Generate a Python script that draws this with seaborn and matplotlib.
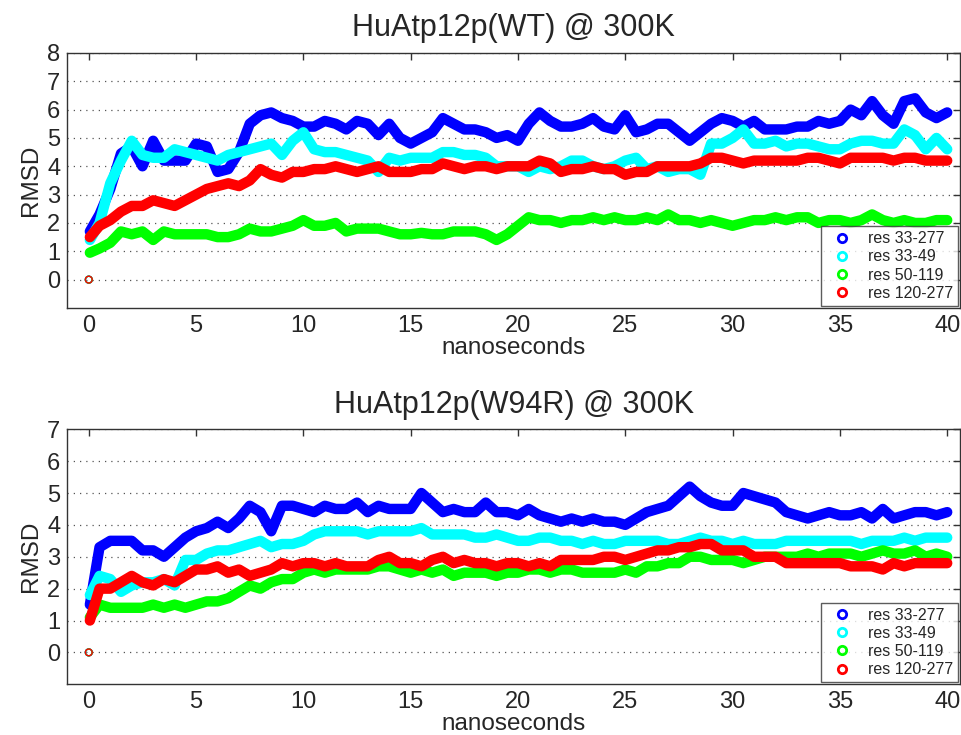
import numpy as np
import pandas as pd
import matplotlib
matplotlib.use('Agg')
import matplotlib.pyplot as plt
from matplotlib.lines import Line2D
import seaborn as sns

# ----------------------------------------------------------------------------
time_ns = [0.0, 0.05] + [round(0.5 * k, 1) for k in range(1, 81)]

labels = ['res 33-277', 'res 33-49', 'res 50-119', 'res 120-277']
colors = ['#0000ff', '#00ffff', '#00ff00', '#ff0000']

# Wild type
wt_33_277 = [0, 1.7,
             2.3, 3.2, 4.45, 4.7, 4.0, 4.9, 4.2, 4.2, 4.2, 4.8,
             4.7, 3.8, 3.9, 4.5, 5.5, 5.8, 5.9, 5.7, 5.6, 5.4,
             5.4, 5.6, 5.5, 5.3, 5.6, 5.5, 5.1, 5.5, 5.0, 4.8,
             5.0, 5.2, 5.7, 5.5, 5.3, 5.3, 5.2, 5.0, 5.1, 4.9,
             5.5, 5.9, 5.6, 5.4, 5.4, 5.5, 5.7, 5.4, 5.3, 5.8,
             5.2, 5.3, 5.5, 5.5, 5.2, 4.9, 5.2, 5.5, 5.7, 5.6,
             5.4, 5.6, 5.3, 5.3, 5.3, 5.4, 5.4, 5.6, 5.5, 5.6,
             6.0, 5.8, 6.3, 5.8, 5.5, 6.3, 6.4, 5.9, 5.7, 5.9]
wt_33_49 = [0, 1.4,
            2.0, 3.4, 4.2, 4.9, 4.4, 4.3, 4.3, 4.6, 4.5, 4.4,
            4.3, 4.2, 4.4, 4.5, 4.6, 4.7, 4.8, 4.4, 4.9, 5.2,
            4.6, 4.5, 4.5, 4.4, 4.3, 4.2, 3.8, 4.3, 4.2, 4.3,
            4.3, 4.3, 4.5, 4.5, 4.4, 4.4, 4.3, 4.0, 4.0, 4.0,
            3.8, 4.0, 3.9, 4.0, 4.2, 4.2, 4.0, 3.9, 4.0, 4.2,
            4.3, 3.9, 4.0, 3.8, 3.9, 3.9, 3.7, 4.8, 4.8, 5.0,
            5.3, 4.8, 4.8, 4.9, 4.7, 4.8, 4.8, 4.7, 4.6, 4.6,
            4.8, 4.9, 4.9, 4.8, 4.8, 5.3, 5.1, 4.6, 5.0, 4.6]
wt_50_119 = [0, 0.95,
             1.1, 1.3, 1.7, 1.6, 1.7, 1.4, 1.7, 1.6, 1.6, 1.6,
             1.6, 1.5, 1.5, 1.6, 1.8, 1.7, 1.7, 1.8, 1.9, 2.1,
             1.9, 1.9, 2.0, 1.7, 1.8, 1.8, 1.8, 1.7, 1.6, 1.6,
             1.65, 1.6, 1.6, 1.7, 1.7, 1.7, 1.6, 1.4, 1.6, 1.9,
             2.2, 2.1, 2.1, 2.0, 2.1, 2.1, 2.2, 2.1, 2.2, 2.1,
             2.1, 2.2, 2.1, 2.3, 2.1, 2.1, 2.0, 2.1, 2.0, 1.9,
             2.0, 2.1, 2.1, 2.2, 2.1, 2.2, 2.2, 2.0, 2.1, 2.1,
             2.0, 2.1, 2.3, 2.1, 2.0, 2.1, 2.0, 2.0, 2.1, 2.1]
wt_120_277 = [0, 1.5,
              1.9, 2.1, 2.4, 2.6, 2.6, 2.8, 2.7, 2.6, 2.8, 3.0,
              3.2, 3.3, 3.4, 3.3, 3.5, 3.9, 3.7, 3.6, 3.8, 3.8,
              3.9, 3.9, 4.0, 3.9, 3.8, 3.9, 4.0, 3.8, 3.8, 3.8,
              3.9, 3.9, 4.1, 4.0, 3.9, 4.0, 4.0, 3.9, 4.0, 4.0,
              4.0, 4.2, 4.1, 3.8, 3.9, 3.9, 4.0, 3.9, 3.9, 3.7,
              3.8, 3.8, 4.0, 4.0, 4.0, 4.0, 4.1, 4.3, 4.3, 4.2,
              4.1, 4.2, 4.2, 4.2, 4.2, 4.2, 4.3, 4.3, 4.2, 4.1,
              4.3, 4.3, 4.3, 4.3, 4.2, 4.3, 4.3, 4.2, 4.2, 4.2]

# W94R mutant
mut_33_277 = [0, 1.5,
              3.3, 3.5, 3.5, 3.5, 3.2, 3.2, 3.0, 3.3, 3.6, 3.8,
              3.9, 4.1, 3.9, 4.2, 4.6, 4.4, 3.8, 4.6, 4.6, 4.5,
              4.4, 4.6, 4.5, 4.5, 4.7, 4.4, 4.6, 4.5, 4.5, 4.5,
              5.0, 4.7, 4.4, 4.5, 4.4, 4.4, 4.7, 4.4, 4.4, 4.3,
              4.5, 4.3, 4.2, 4.1, 4.2, 4.1, 4.2, 4.1, 4.1, 4.0,
              4.2, 4.4, 4.5, 4.6, 4.9, 5.2, 4.9, 4.7, 4.6, 4.6,
              5.0, 4.9, 4.8, 4.7, 4.4, 4.3, 4.2, 4.3, 4.4, 4.3,
              4.3, 4.4, 4.2, 4.5, 4.2, 4.3, 4.4, 4.4, 4.3, 4.4]
mut_33_49 = [0, 1.8,
             2.4, 2.3, 1.9, 2.1, 2.2, 2.2, 2.3, 2.1, 2.9, 2.9,
             3.1, 3.2, 3.2, 3.3, 3.4, 3.5, 3.3, 3.4, 3.4, 3.5,
             3.7, 3.8, 3.8, 3.8, 3.8, 3.7, 3.8, 3.8, 3.8, 3.8,
             3.9, 3.7, 3.7, 3.7, 3.7, 3.6, 3.6, 3.7, 3.6, 3.5,
             3.5, 3.6, 3.6, 3.5, 3.5, 3.4, 3.5, 3.4, 3.4, 3.5,
             3.5, 3.5, 3.5, 3.4, 3.4, 3.5, 3.6, 3.5, 3.5, 3.4,
             3.5, 3.4, 3.4, 3.4, 3.5, 3.5, 3.5, 3.5, 3.5, 3.5,
             3.5, 3.4, 3.5, 3.5, 3.5, 3.6, 3.5, 3.6, 3.6, 3.6]
mut_50_119 = [0, 1.1,
              1.5, 1.4, 1.4, 1.4, 1.4, 1.5, 1.4, 1.5, 1.4, 1.5,
              1.6, 1.6, 1.7, 1.9, 2.1, 2.0, 2.2, 2.3, 2.3, 2.5,
              2.6, 2.5, 2.6, 2.6, 2.6, 2.6, 2.7, 2.7, 2.6, 2.5,
              2.6, 2.5, 2.6, 2.4, 2.5, 2.5, 2.5, 2.4, 2.5, 2.5,
              2.6, 2.6, 2.5, 2.6, 2.6, 2.5, 2.5, 2.5, 2.5, 2.6,
              2.5, 2.7, 2.7, 2.8, 2.8, 3.0, 3.0, 2.9, 2.9, 2.9,
              2.8, 2.9, 3.0, 3.0, 3.0, 3.0, 3.1, 3.0, 3.1, 3.1,
              3.1, 3.0, 3.1, 3.2, 3.1, 3.1, 3.2, 3.0, 3.1, 3.0]
mut_120_277 = [0, 1.0,
               2.0, 2.0, 2.2, 2.4, 2.2, 2.1, 2.3, 2.2, 2.4, 2.6,
               2.6, 2.7, 2.5, 2.6, 2.4, 2.5, 2.6, 2.8, 2.7, 2.8,
               2.8, 2.7, 2.8, 2.7, 2.7, 2.7, 2.9, 3.0, 2.8, 2.8,
               2.7, 2.9, 3.0, 2.8, 2.9, 2.8, 2.8, 2.7, 2.8, 2.8,
               2.7, 2.8, 2.7, 2.9, 2.9, 2.9, 2.9, 3.0, 3.0, 2.9,
               3.0, 3.1, 3.2, 3.2, 3.3, 3.3, 3.4, 3.4, 3.2, 3.2,
               3.2, 3.0, 3.0, 3.0, 2.8, 2.8, 2.8, 2.8, 2.8, 2.8,
               2.7, 2.7, 2.7, 2.6, 2.8, 2.7, 2.8, 2.8, 2.8, 2.8]

panels = [
    ('HuAtp12p(WT) @ 300K', [wt_33_277, wt_33_49, wt_50_119, wt_120_277], 8),
    ('HuAtp12p(W94R) @ 300K', [mut_33_277, mut_33_49, mut_50_119, mut_120_277], 7),
]

# %% Plot
# ----------------------------------------------------------------------------
sns.set_style('white')
plt.rcParams['font.family'] = ['Liberation Sans', 'DejaVu Sans']

fig = plt.figure(figsize=(9.62, 7.35), dpi=100)
ax_pos = [[0.070, 0.581, 0.928, 0.347],
          [0.070, 0.069, 0.928, 0.347]]

for (title, series, ytop), pos in zip(panels, ax_pos):
    ax = fig.add_axes(pos)
    for vals, col in zip(series, colors):
        df = pd.DataFrame({'t': time_ns, 'rmsd': vals})
        # first frame sits at zero, drawn as a lone marker
        sns.lineplot(data=df.iloc[1:], x='t', y='rmsd', color=col, lw=7.5,
                     sort=False, estimator=None, legend=False, ax=ax,
                     solid_joinstyle='round', solid_capstyle='round')
        sns.scatterplot(data=df.iloc[:1], x='t', y='rmsd', marker='o', s=24,
                        facecolors='none', edgecolor=col, linewidth=1.0,
                        legend=False, ax=ax)
    ax.set_xlim(-1, 40.6)
    ax.set_ylim(-1, ytop)
    ax.set_xticks(range(0, 41, 5))
    ax.set_yticks(range(0, ytop + 1))
    ax.grid(axis='y', linestyle=(0, (1, 4)), color='#555555', lw=0.9)
    ax.tick_params(direction='in', top=True, right=True, length=5,
                   labelsize=17, width=1, color='#333333', pad=5)
    for sp in ax.spines.values():
        sp.set_color('#333333')
        sp.set_linewidth(1)
    ax.set_title(title, fontsize=22, pad=12)
    ax.set_xlabel('nanoseconds', fontsize=17.5, labelpad=0)
    ax.set_ylabel('RMSD', fontsize=17.5, labelpad=4)

    handles = [Line2D([], [], ls='none', marker='o', ms=6, mfc='none',
                      mec=c, mew=2) for c in colors]
    leg = ax.legend(handles, labels, loc='lower right', fontsize=11.5,
                    frameon=True, fancybox=False, borderaxespad=0.15,
                    handletextpad=0.6, labelspacing=0.2, borderpad=0.3)
    leg.get_frame().set_edgecolor('#333333')
    leg.get_frame().set_linewidth(1)

fig.savefig('out.png', dpi=100)
